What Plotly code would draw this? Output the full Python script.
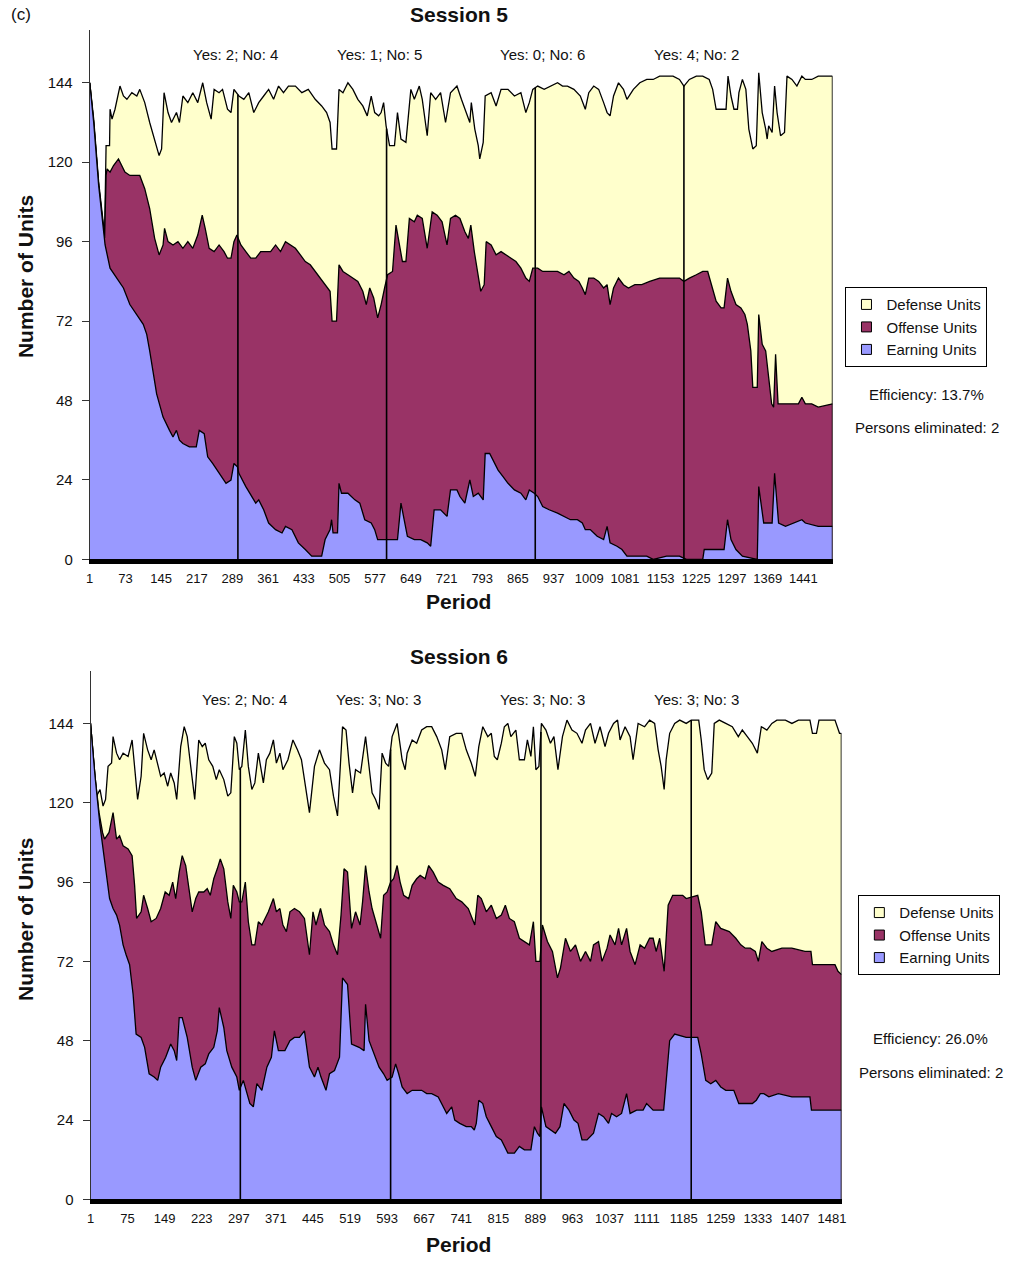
import numpy as np
import plotly.graph_objects as go

W, H = 1015, 1264
FONT = "Liberation Sans, Arial, sans-serif"

# ---------------- data ----------------
# Each list holds (period, value) points of an upper boundary of the stacked areas:
# *_total      = Earning + Offense + Defense units (top of yellow area)
# *_earn_off   = Earning + Offense units          (top of purple area)
# *_earn       = Earning units                    (top of blue area)

s5_total = [(1,144),(9,133),(19,114),(26,105),(31,98),(34,125),(41,125),(42,136),(46,133),(52,136),
 (62,143),(69,140),(76,139),(86,141),(96,140),(102,142),(112,138),(122,132),(132,127),(141,122),
 (146,124),(151,141),(159,135),(166,132),(176,135),(182,132),(189,140),(199,138),(209,141),(219,138),
 (229,144),(237,138),(246,133),(252,142),(262,141),(269,142),(279,136),(286,135),(292,142),(302,140),
 (312,139),(322,141),(332,135),(342,138),(352,140),(362,142),(372,139),(382,143),(392,141),(402,143),
 (416,143),(429,141),(442,142),(456,139),(469,137),(479,135),(486,132),(490,124),(499,124),(504,142),
 (512,141),(522,144),(532,142),(542,139),(552,137),(561,134),(569,140),(576,135),(584,134),(589,135),
 (594,138),(599,131),(606,125),(616,125),(622,135),(629,127),(639,126),(649,142),(656,139),(666,143),
 (672,139),(682,128),(689,141),(699,139),(709,141),(719,132),(729,141),(742,143),(751,139),(761,135),
 (768,132),(771,138),(778,130),(785,125),(788,121),(795,126),(799,140),(811,141),(821,137),(831,142),
 (845,142),(858,140),(871,141),(881,135),(888,138),(895,142),(905,143),(918,142),(931,143),(945,144),
 (955,143),(965,143),(978,142),(991,140),(1001,136),(1008,141),(1018,143),(1028,142),(1038,138),(1045,135),
 (1051,134),(1058,140),(1068,144),(1078,142),(1085,139),(1098,142),(1111,144),(1125,145),(1138,145),(1151,146),
 (1165,146),(1178,146),(1191,145),(1200,143),(1211,145),(1225,146),(1238,146),(1251,145),(1258,142),(1265,136),
 (1278,136),(1285,136),(1289,146),(1295,140),(1301,136),(1308,136),(1311,141),(1318,145),(1325,142),(1331,130),
 (1339,124),(1346,125),(1351,147),(1358,135),(1365,130),(1368,127),(1371,131),(1378,129),(1383,143),(1388,135),
 (1395,128),(1403,129),(1408,146),(1418,145),(1428,143),(1438,146),(1445,145),(1458,145),(1471,146),(1500,146)]

s5_earn_off = [(1,144),(9,132),(19,113),(26,104),(31,97),(34,116),(36,118),(42,117),(49,119),(59,121),
 (66,119),(72,117),(82,116),(92,116),(102,116),(112,112),(122,106),(132,97),(141,92),(149,95),
 (152,100),(159,96),(169,95),(179,96),(189,94),(199,96),(209,94),(219,98),(228,104),(234,100),
 (242,94),(252,93),(262,95),(272,93),(279,91),(286,91),(292,96),(298,98),(306,95),(316,93),
 (326,91),(336,91),(346,93),(356,93),(366,93),(376,95),(386,93),(396,96),(406,95),(416,94),
 (426,92),(436,90),(446,89),(456,87),(466,85),(476,83),(486,81),(490,72),(499,72),(504,89),
 (512,87),(522,86),(532,85),(542,84),(552,81),(559,77),(566,82),(574,79),(582,73),(589,77),
 (596,82),(602,86),(612,87),(619,101),(626,95),(632,90),(639,90),(646,103),(656,102),(662,104),
 (672,103),(682,94),(692,105),(702,104),(712,102),(722,95),(729,103),(739,104),(748,103),(758,99),
 (765,97),(770,101),(777,93),(783,87),(790,81),(797,83),(801,96),(811,95),(821,92),(831,93),
 (841,92),(851,91),(861,90),(871,88),(881,85),(888,84),(895,88),(905,88),(915,87),(925,87),
 (935,87),(945,87),(958,86),(968,87),(978,85),(988,84),(995,82),(1001,80),(1008,85),(1018,85),
 (1028,84),(1038,82),(1045,83),(1051,77),(1058,82),(1068,85),(1078,83),(1088,82),(1101,83),(1115,83),
 (1131,84),(1151,85),(1171,85),(1191,85),(1200,84),(1211,85),(1225,86),(1238,87),(1248,87),(1255,83),
 (1265,78),(1275,76),(1281,76),(1288,85),(1295,81),(1305,77),(1315,76),(1323,74),(1328,71),(1335,63),
 (1339,52),(1348,52),(1351,74),(1358,65),(1365,63),(1371,55),(1377,47),(1381,46),(1385,62),(1390,47),
 (1405,47),(1418,47),(1431,47),(1438,49),(1445,47),(1458,47),(1471,46),(1500,47)]

s5_earn = [(1,144),(9,132),(19,113),(26,103),(32,95),(42,88),(56,85),(69,82),(82,77),(96,74),
 (109,71),(116,68),(122,63),(136,50),(149,43),(162,39),(169,37),(176,39),(182,36),(189,35),
 (202,34),(216,34),(222,39),(232,38),(239,31),(249,29),(262,26),(276,23),(286,24),(292,29),
 (299,28),(302,26),(316,22),(329,19),(336,17),(342,18),(352,15),(362,11),(376,9),(389,8),
 (396,10),(409,9),(422,5),(436,3),(449,1),(469,1),(476,6),(486,9),(489,12),(492,8),
 (501,8),(504,23),(509,20),(522,20),(536,18),(546,17),(556,12),(569,11),(576,9),(582,6),
 (596,6),(612,6),(622,6),(629,17),(636,11),(642,7),(656,6),(669,6),(682,5),(689,4),
 (696,15),(709,15),(722,13),(729,21),(742,21),(748,19),(758,17),(768,24),(775,19),(785,20),
 (795,18),(799,32),(808,32),(815,30),(825,27),(835,25),(845,23),(858,21),(871,20),(881,18),
 (888,21),(898,20),(905,19),(915,16),(928,15),(945,14),(958,13),(971,12),(985,12),(995,11),
 (1001,9),(1011,9),(1025,7),(1038,6),(1045,10),(1051,5),(1065,4),(1075,3),(1085,1),(1098,1),
 (1125,1),(1138,0),(1165,1),(1191,1),(1205,0),(1238,0),(1241,3),(1265,3),(1281,3),(1288,12),
 (1295,6),(1305,3),(1318,1),(1348,0),(1351,22),(1361,11),(1378,11),(1383,26),(1391,11),(1405,10),
 (1438,12),(1445,11),(1471,10),(1500,10)]

s6_total = [(1,144),(13,122),(20,124),(26,119),(31,121),(36,131),(43,132),(46,140),(53,135),(59,133),
 (66,135),(76,134),(84,139),(89,131),(95,121),(102,128),(107,141),(115,136),(122,133),(128,136),
 (135,132),(141,128),(148,129),(155,125),(161,129),(168,126),(173,121),(181,137),(188,143),(194,140),
 (201,131),(209,121),(217,139),(224,137),(230,138),(237,133),(245,131),(252,127),(258,130),(267,127),
 (275,122),(281,123),(288,140),(293,138),(298,130),(303,131),(310,142),(316,131),(323,124),(329,126),
 (336,135),(346,126),(352,133),(359,135),(366,139),(372,132),(379,135),(385,130),(395,133),(405,139),
 (414,136),(422,133),(430,125),(438,117),(448,131),(458,136),(468,132),(478,130),(486,122),(494,116),
 (504,143),(511,142),(517,132),(524,123),(530,130),(540,129),(550,140),(557,131),(563,123),(570,121),
 (577,118),(583,135),(590,132),(596,131),(603,140),(613,144),(623,133),(629,130),(633,135),(643,139),
 (652,138),(662,142),(672,143),(682,143),(692,140),(702,136),(709,130),(718,140),(731,141),(742,141),
 (751,136),(761,132),(769,128),(776,137),(784,143),(794,140),(801,141),(807,134),(813,133),(821,138),
 (827,143),(834,144),(840,140),(850,142),(857,133),(867,133),(873,139),(880,134),(885,143),(890,130),
 (896,131),(901,144),(910,142),(919,138),(926,140),(934,130),(943,140),(952,145),(962,142),(972,141),
 (982,138),(989,142),(999,144),(1008,138),(1018,143),(1028,137),(1035,141),(1045,144),(1053,145),(1058,139),
 (1068,143),(1078,140),(1084,133),(1094,144),(1107,143),(1117,145),(1127,144),(1134,136),(1140,131),(1146,124),
 (1150,133),(1157,141),(1167,144),(1177,145),(1190,144),(1200,145),(1215,145),(1220,139),(1226,130),(1233,127),
 (1241,129),(1246,144),(1256,145),(1269,144),(1282,143),(1294,140),(1302,142),(1312,140),(1322,138),(1332,135),
 (1340,143),(1351,142),(1361,144),(1371,145),(1388,145),(1401,144),(1414,145),(1437,145),(1442,141),(1450,141),
 (1455,145),(1487,145),(1496,141),(1500,141)]

s6_earn_off = [(1,144),(10,128),(18,117),(25,111),(29,109),(38,111),(46,117),(53,109),(59,110),(66,107),
 (76,106),(84,104),(89,95),(93,85),(102,87),(107,92),(115,88),(122,84),(132,85),(141,88),
 (150,93),(158,92),(165,96),(171,91),(178,99),(184,104),(191,101),(197,94),(204,87),(211,91),
 (217,93),(227,93),(234,94),(240,92),(247,97),(254,100),(260,103),(267,100),(275,90),(281,85),
 (286,95),(293,93),(298,90),(303,90),(310,96),(316,84),(323,77),(329,77),(336,84),(343,83),
 (349,85),(356,87),(366,91),(372,87),(379,88),(385,83),(392,81),(399,87),(408,88),(418,87),
 (428,85),(438,74),(445,87),(451,83),(460,88),(468,83),(478,81),(486,77),(494,74),(501,86),
 (507,100),(514,99),(522,82),(530,87),(539,83),(544,90),(550,101),(557,93),(563,88),(573,83),
 (580,79),(586,92),(593,93),(600,96),(606,97),(613,101),(619,96),(626,92),(636,91),(643,95),
 (652,97),(659,98),(669,97),(676,101),(685,99),(695,96),(705,95),(718,94),(731,91),(742,90),
 (755,88),(768,83),(774,92),(781,91),(791,87),(801,89),(811,85),(821,86),(829,89),(837,85),
 (847,84),(857,79),(867,78),(877,77),(885,84),(890,72),(898,72),(903,83),(913,78),(923,75),
 (933,67),(939,70),(949,79),(959,75),(969,77),(979,72),(989,75),(999,72),(1005,77),(1015,78),
 (1022,72),(1032,76),(1038,80),(1048,77),(1055,82),(1061,77),(1071,82),(1078,75),(1088,71),(1098,77),
 (1107,76),(1117,79),(1124,79),(1130,75),(1137,79),(1146,69),(1154,89),(1163,92),(1183,92),(1190,91),
 (1213,92),(1220,87),(1228,77),(1235,77),(1241,77),(1249,84),(1259,82),(1276,81),(1289,79),(1299,77),
 (1308,76),(1318,76),(1328,75),(1334,72),(1341,78),(1351,76),(1361,75),(1381,76),(1401,76),(1427,75),
 (1439,75),(1442,71),(1487,71),(1493,69),(1500,68)]

s6_earn = [(1,144),(10,128),(20,113),(26,106),(33,97),(39,91),(46,88),(53,86),(59,83),(66,77),
 (72,74),(79,71),(86,62),(92,50),(102,49),(109,46),(118,38),(128,37),(135,36),(141,40),
 (151,43),(161,47),(168,45),(173,42),(178,55),(184,55),(194,49),(204,40),(211,36),(221,40),
 (230,41),(237,44),(247,46),(254,51),(258,58),(267,52),(273,45),(283,40),(293,37),(298,33),
 (306,36),(313,32),(319,29),(326,28),(333,35),(343,33),(353,40),(362,43),(368,51),(376,45),
 (389,45),(399,48),(408,49),(418,49),(428,51),(438,40),(448,37),(455,40),(461,37),(471,33),
 (478,38),(488,39),(498,43),(504,67),(514,65),(522,47),(537,46),(547,45),(550,59),(557,48),
 (567,44),(577,40),(586,38),(593,36),(603,37),(610,41),(616,38),(623,34),(633,32),(643,33),
 (652,33),(662,33),(672,32),(682,32),(695,31),(705,28),(712,26),(722,28),(728,24),(738,23),
 (751,22),(761,22),(767,21),(771,23),(776,30),(784,29),(791,25),(801,22),(811,19),(821,18),
 (834,14),(847,14),(857,16),(867,15),(880,15),(887,22),(893,20),(898,19),(901,28),(910,22),
 (919,21),(929,20),(938,22),(946,29),(956,27),(966,24),(974,23),(982,18),(992,18),(1005,20),
 (1015,26),(1025,25),(1035,23),(1041,26),(1051,25),(1061,26),(1071,32),(1078,26),(1091,27),(1104,27),
 (1111,29),(1124,27),(1145,27),(1150,37),(1157,48),(1167,50),(1190,49),(1213,49),(1220,44),(1229,36),
 (1239,35),(1249,36),(1259,34),(1269,33),(1285,33),(1295,29),(1308,29),(1322,29),(1330,30),(1338,32),
 (1345,32),(1355,31),(1374,32),(1401,31),(1437,31),(1440,27),(1496,27),(1500,27)]

s5_votes = [300, 600, 900, 1200]
s6_votes = [300, 600, 900, 1200]
s5_vote_labels = ["Yes: 2; No: 4", "Yes: 1; No: 5", "Yes: 0; No: 6", "Yes: 4; No: 2"]
s6_vote_labels = ["Yes: 2; No: 4", "Yes: 3; No: 3", "Yes: 3; No: 3", "Yes: 3; No: 3"]
s5_ticks = list(range(1, 1442, 72))
s6_ticks = list(range(1, 1482, 74))
y_ticks = [0, 24, 48, 72, 96, 120, 144]
series_names = ["Defense Units", "Offense Units", "Earning Units"]
series_colors = ["#FFFFCC", "#993366", "#9999FF"]
s5_stats = ["Efficiency: 13.7%", "Persons eliminated: 2"]
s6_stats = ["Efficiency: 26.0%", "Persons eliminated: 2"]

# ---------------- figure ----------------
fig = go.Figure()

def px(x):
    return x / W

def py(y):
    return 1 - y / H

def add_session(bounds, votes, xa, ya, legend):
    total = bounds[0]
    for name, pts, col in zip(series_names, bounds, series_colors):
        xs, ys = zip(*pts)
        fig.add_trace(go.Scatter(x=xs, y=ys, mode="lines", fill="tozeroy", fillcolor=col,
                                 line=dict(color="black", width=1.3), name=name,
                                 showlegend=False, xaxis=xa, yaxis=ya,
                                 hoverinfo="x+y+name"))
    tx, ty = zip(*total)
    lx, ly = [], []
    for v in list(votes) + [tx[-1]]:
        lx += [v, v, None]
        ly += [0, float(np.interp(v, tx, ty)), None]
    fig.add_trace(go.Scatter(x=lx, y=ly, mode="lines", line=dict(color="black", width=1.6),
                             showlegend=False, hoverinfo="skip", xaxis=xa, yaxis=ya))
    for name, col in zip(series_names, series_colors):
        fig.add_trace(go.Scatter(x=[None], y=[None], mode="markers", name=name,
                                 legendgroup=legend + name,
                                 marker=dict(symbol="square", size=10, color=col,
                                             line=dict(color="black", width=1)),
                                 legend=legend, xaxis=xa, yaxis=ya))

add_session([s5_total, s5_earn_off, s5_earn], s5_votes, "x", "y", "legend")
add_session([s6_total, s6_earn_off, s6_earn], s6_votes, "x2", "y2", "legend2")

tickfont_x = dict(family=FONT, size=13, color="#111")
tickfont_y = dict(family=FONT, size=15, color="#111")

xcommon = dict(range=[1, 1500], showline=True, linecolor="black", linewidth=5, ticks="",
               showgrid=False, zeroline=False, tickfont=tickfont_x, ticklabelstandoff=3)
ycommon = dict(range=[0, 160], tickvals=y_ticks, showline=True, linecolor="#333", linewidth=1,
               ticks="outside", ticklen=7, tickcolor="#333", showgrid=False, zeroline=False,
               tickfont=tickfont_y, ticklabelstandoff=6)

legcommon = dict(bordercolor="black", borderwidth=1, bgcolor="white",
                 font=dict(family=FONT, size=15, color="#111"), itemwidth=30,
                 xanchor="left", yanchor="top", traceorder="normal", tracegroupgap=2)

annotations = []
def ann(text, x, y, size=15, bold=False, angle=0, xanchor="center"):
    annotations.append(dict(text=f"<b>{text}</b>" if bold else text, x=px(x), y=py(y),
                            xref="paper", yref="paper", showarrow=False, textangle=angle,
                            xanchor=xanchor, yanchor="middle",
                            font=dict(family=FONT, size=size, color="#111")))

ann("(c)", 17, 15, size=17)
ann("Session 5", 459, 15, size=21, bold=True)
ann("Session 6", 459, 661, size=21, bold=True)
ann("Period", 459, 605, size=21, bold=True)
ann("Period", 459, 1252, size=21, bold=True)
ann("Number of Units", 21, 278, size=21, bold=True, angle=-90)
ann("Number of Units", 21, 925, size=21, bold=True, angle=-90)
for t, cx in zip(s5_vote_labels, [234, 379, 543, 699]):
    ann(t, cx, 55)
for t, cx in zip(s6_vote_labels, [243, 378, 543, 699]):
    ann(t, cx, 704)
ann(s5_stats[0], 931, 397)
ann(s5_stats[1], 931, 430)
ann(s6_stats[0], 935, 1045)
ann(s6_stats[1], 935, 1079)

fig.update_layout(
    width=W, height=H, autosize=False,
    margin=dict(l=0, r=0, t=0, b=0),
    paper_bgcolor="white", plot_bgcolor="white",
    xaxis=dict(domain=[px(86.5), px(836)], anchor="y", tickvals=s5_ticks, **xcommon),
    yaxis=dict(domain=[py(563), py(30)], anchor="x", **ycommon),
    xaxis2=dict(domain=[px(87.3), px(845)], anchor="y2", tickvals=s6_ticks, **xcommon),
    yaxis2=dict(domain=[py(1207), py(674.8)], anchor="x2", **ycommon),
    legend=dict(x=px(849), y=py(289), **legcommon),
    legend2=dict(x=px(862), y=py(901), **legcommon),
    annotations=annotations,
    showlegend=True,
)

fig.write_html("out.html", config={"displayModeBar": False},
               post_script="document.body.style.margin='0';document.body.style.overflow='hidden';")
